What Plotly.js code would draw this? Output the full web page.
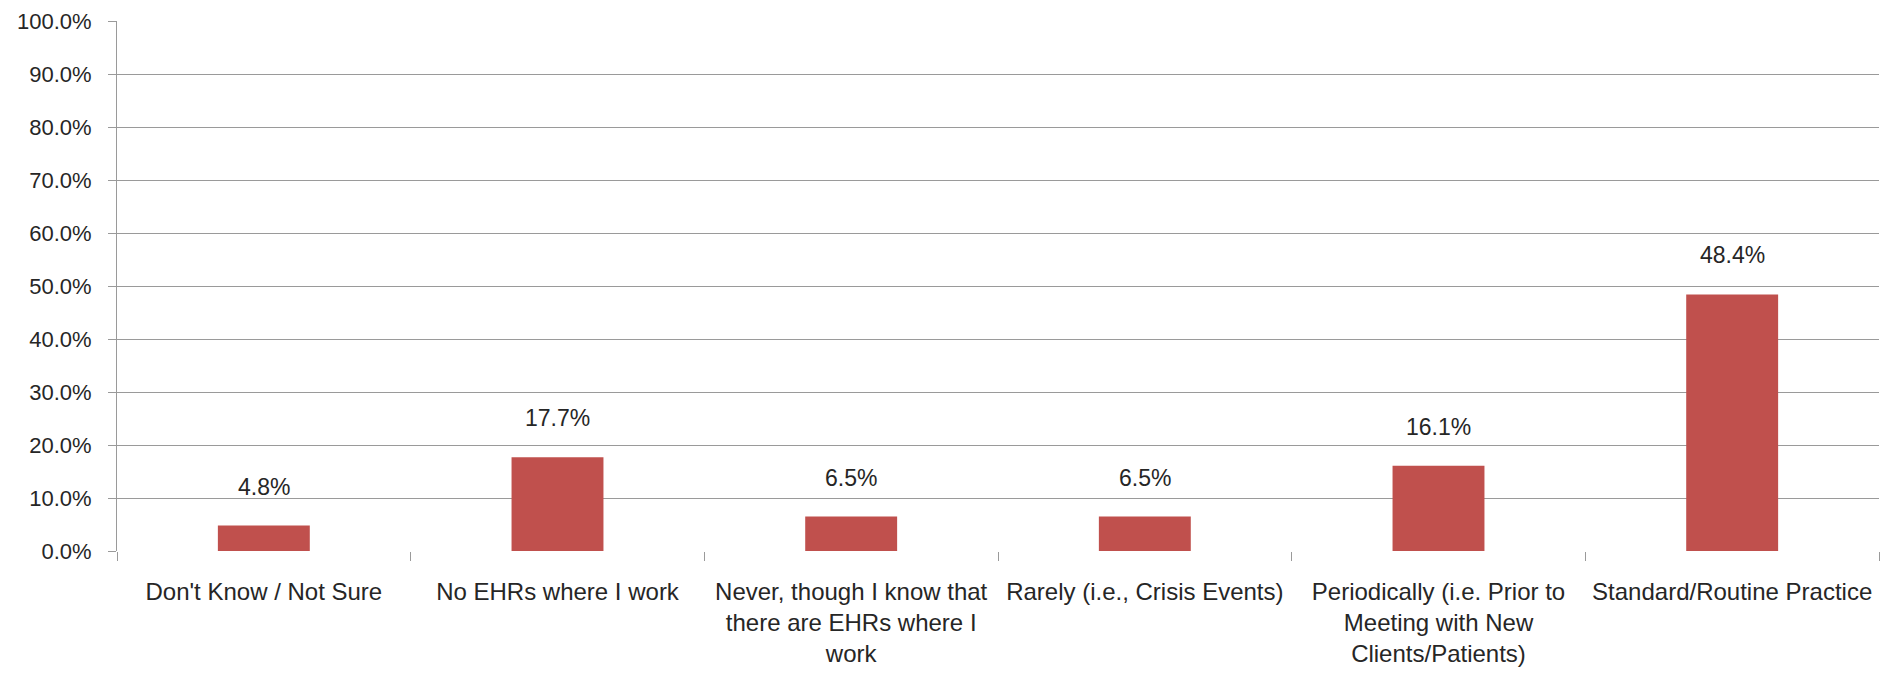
<!DOCTYPE html>
<html>
<head>
<meta charset="utf-8">
<script src="https://cdn.plot.ly/plotly-3.0.1.min.js"></script>
<style>html,body{margin:0;padding:0;background:#fff;}#chart{width:1900px;height:674px;}</style>
</head>
<body>
<div id="chart"></div>
<script>
const categories = [
  "Don't Know / Not Sure",
  "No EHRs where I work",
  "Never, though I know that<br>there are EHRs where I<br>work",
  "Rarely (i.e., Crisis Events)",
  "Periodically (i.e. Prior to<br>Meeting with New<br>Clients/Patients)",
  "Standard/Routine Practice"
];
const values = [4.8, 17.7, 6.5, 6.5, 16.1, 48.4];
const valueLabels = ["4.8%", "17.7%", "6.5%", "6.5%", "16.1%", "48.4%"];
const yTickVals = [0, 10, 20, 30, 40, 50, 60, 70, 80, 90, 100];
const yTickText = ["0.0%", "10.0%", "20.0%", "30.0%", "40.0%", "50.0%", "60.0%", "70.0%", "80.0%", "90.0%", "100.0%"];

const FONT = "Liberation Sans, Arial, sans-serif";
const TEXT = "#262626";
const GRID = "#9a9a9a";

const trace = {
  type: "bar",
  x: categories,
  y: values,
  marker: {color: "#C0504D"},
  hoverinfo: "skip"
};

const annotations = categories.map((c, i) => ({
  x: c, y: values[i], xref: "x", yref: "y",
  text: valueLabels[i], showarrow: false,
  yanchor: "bottom", yshift: 24,
  font: {family: FONT, size: 23, color: TEXT}
}));

const layout = {
  width: 1900, height: 674,
  margin: {l: 117, r: 21, t: 21, b: 123},
  paper_bgcolor: "#fff", plot_bgcolor: "#fff",
  bargap: 0.687,
  showlegend: false,
  xaxis: {
    type: "category",
    tickson: "boundaries",
    ticks: "outside", ticklen: 9, tickcolor: GRID, tickwidth: 1,
    showgrid: false, zeroline: false,
    showline: false,
    tickfont: {family: FONT, size: 24, color: TEXT},
    ticklabelstandoff: 24,
    automargin: false
  },
  yaxis: {
    range: [0, 100],
    tickvals: yTickVals, ticktext: yTickText,
    ticks: "outside", ticklen: 8, tickcolor: GRID, tickwidth: 1,
    showgrid: true, gridcolor: GRID, gridwidth: 1,
    zeroline: false,
    showline: true, linecolor: GRID, linewidth: 1,
    tickfont: {family: FONT, size: 22, color: TEXT},
    ticklabelstandoff: 12,
    automargin: false
  },
  annotations: annotations
};

Plotly.newPlot("chart", [trace], layout, {displayModeBar: false, staticPlot: true});
</script>
</body>
</html>
